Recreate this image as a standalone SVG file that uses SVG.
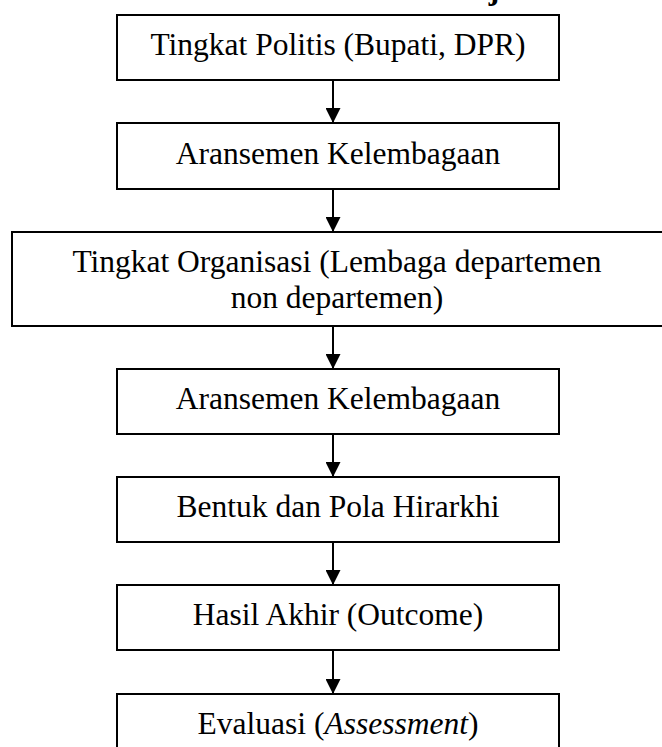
<svg xmlns="http://www.w3.org/2000/svg" width="662" height="747" viewBox="0 0 662 747">
  <style>
    .box { fill: #ffffff; stroke: #000000; stroke-width: 2; }
    .label { font-family: "Liberation Serif", "Times New Roman", serif; font-size: 31.5px; fill: #000000; text-anchor: middle; }
    .link { stroke: #000000; stroke-width: 2; fill: none; marker-end: url(#arrow); }
  </style>
  <defs>
    <!-- solid triangular arrowhead, tip sits on the end of the line -->
    <marker id="arrow" markerWidth="15" markerHeight="15" refX="15" refY="7.5" orient="auto" markerUnits="userSpaceOnUse" viewBox="0 0 15 15">
      <path d="M0,0 L15,7.5 L0,15 Z" fill="#000000"/>
    </marker>
  </defs>
  <rect width="662" height="747" fill="#ffffff"/>

  <!-- heading, clipped at the top edge -->
  <text x="494" y="-1" font-family="'Liberation Serif', serif" font-size="32" font-weight="bold" text-anchor="middle">j</text>

  <g id="connectors">
    <line x1="333" y1="80" x2="333" y2="123" class="link"/>
    <line x1="333" y1="189" x2="333" y2="232" class="link"/>
    <line x1="333" y1="326" x2="333" y2="369" class="link"/>
    <line x1="333" y1="434" x2="333" y2="477" class="link"/>
    <line x1="333" y1="542" x2="333" y2="585" class="link"/>
    <line x1="333" y1="650" x2="333" y2="694" class="link"/>
  </g>

  <g id="tingkat-politis">
    <rect x="117" y="15" width="442" height="65" class="box"/>
    <text x="338" y="55" class="label">Tingkat Politis (Bupati, DPR)</text>
  </g>

  <g id="aransemen-1">
    <rect x="117" y="123" width="442" height="66" class="box"/>
    <text x="338" y="164" class="label">Aransemen Kelembagaan</text>
  </g>

  <g id="tingkat-organisasi">
    <rect x="12" y="232" width="660" height="94" class="box"/>
    <text x="337" y="272" class="label">Tingkat Organisasi (Lembaga departemen</text>
    <text x="337" y="308" class="label">non departemen)</text>
  </g>

  <g id="aransemen-2">
    <rect x="117" y="369" width="442" height="65" class="box"/>
    <text x="338" y="409" class="label">Aransemen Kelembagaan</text>
  </g>

  <g id="bentuk-pola">
    <rect x="117" y="477" width="442" height="65" class="box"/>
    <text x="338" y="517" class="label">Bentuk dan Pola Hirarkhi</text>
  </g>

  <g id="hasil-akhir">
    <rect x="117" y="585" width="442" height="65" class="box"/>
    <text x="338" y="625" class="label">Hasil Akhir (Outcome)</text>
  </g>

  <g id="evaluasi">
    <rect x="117" y="694" width="442" height="70" class="box"/>
    <text x="338" y="734" class="label">Evaluasi (<tspan font-style="italic">Assessment</tspan>)</text>
  </g>
</svg>
